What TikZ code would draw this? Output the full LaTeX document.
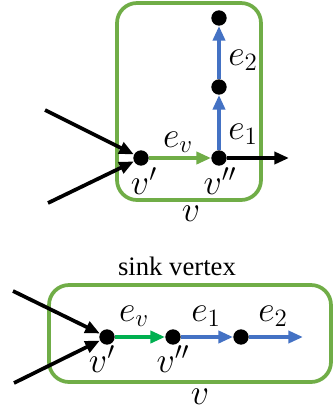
\documentclass[tikz,border=0pt]{standalone}
\usepackage{amsmath}
\usepackage{fontspec}
\setmainfont{Liberation Serif}
\usepackage{tikz}
\usetikzlibrary{arrows.meta, positioning, calc}

\definecolor{vgreen}{RGB}{112,173,71}
\definecolor{egreen}{RGB}{0,176,80}
\definecolor{eblue}{RGB}{68,114,196}

\begin{document}
\begin{tikzpicture}[
  x=0.75pt, y=-0.75pt,
  dot/.style={circle, fill=black, minimum size=11.5pt, inner sep=0pt},
  lbl/.style={font=\fontsize{20}{24}\selectfont, scale=1.3, inner sep=0pt},
  ttl/.style={font=\fontsize{20}{24}\selectfont, inner sep=0pt},
  vbox/.style={draw=vgreen, line width=2.8pt, rounded corners=15pt},
  blk/.style={-{Triangle[length=11pt,width=9pt]}, line width=2.8pt, black},
  grn/.style={-{Triangle[length=11pt,width=9pt]}, line width=2.8pt, vgreen},
  bgrn/.style={-{Triangle[length=11pt,width=9pt]}, line width=2.8pt, egreen},
  blu/.style={-{Triangle[length=11pt,width=9pt]}, line width=2.8pt, eblue},
]
\useasboundingbox (0,0) rectangle (333,412);

%% ---- Upper vertex (split) ----
\draw[vbox] (117,3) rectangle (261,200);
\node[dot] (a1) at (141,158) {};
\node[dot] (a2) at (219,158) {};
\node[dot] (a3) at (219,87) {};
\node[dot] (a4) at (219,18) {};

\coordinate (inA) at (45,110);
\coordinate (inB) at (48,203);
\coordinate (outA) at (289,158);

\draw[blk] (inA) -- (a1);
\draw[blk] (inB) -- (a1);
\draw[grn] (a1) -- (a2);
\draw[blu] (a2) -- (a3);
\draw[blu] (a3) -- (a4);
\draw[blk] (a2) -- (outA);

\node[lbl] (ev1) at (178,142) {$e_v$};
\node[lbl] (e11) at (243,134) {$e_1$};
\node[lbl] (e21) at (243,60) {$e_2$};
\node[lbl] (va1) at (144,181) {$v'$};
\node[lbl] (vb1) at (220,181) {$v''$};
\node[lbl] (v1)  at (191,214) {$v$};

%% ---- Lower vertex (sink) ----
\node[ttl] (sink) at (177,266) {sink vertex};
\draw[vbox] (49,285) rectangle (331,382);
\node[dot] (b1) at (107,337) {};
\node[dot] (b2) at (173,337) {};
\node[dot] (b3) at (241,337) {};

\coordinate (inC) at (13,291);
\coordinate (inD) at (14,383);
\coordinate (outB) at (303,337);

\draw[blk] (inC) -- (b1);
\draw[blk] (inD) -- (b1);
\draw[bgrn] (b1) -- (b2);
\draw[blu] (b2) -- (b3);
\draw[blu] (b3) -- (outB);

\node[lbl] (ev2) at (134,316) {$e_v$};
\node[lbl] (e12) at (206,316) {$e_1$};
\node[lbl] (e22) at (273,316) {$e_2$};
\node[lbl] (va2) at (102,359) {$v'$};
\node[lbl] (vb2) at (173,359) {$v''$};
\node[lbl] (v2)  at (200,397) {$v$};
\end{tikzpicture}
\end{document}
